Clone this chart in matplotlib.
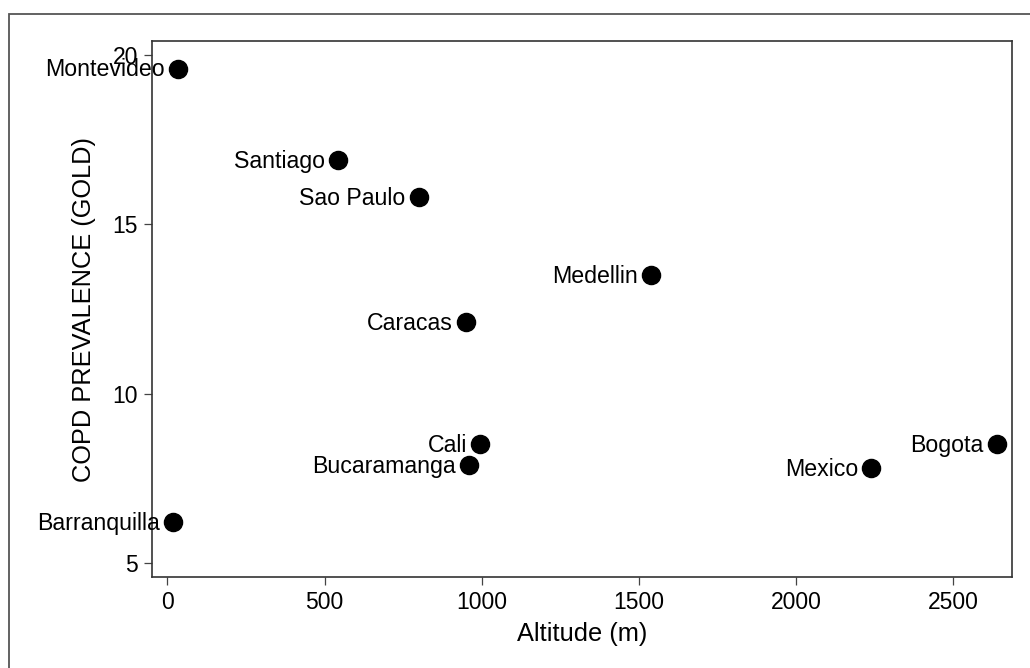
import matplotlib
matplotlib.use("Agg")
import matplotlib.pyplot as plt
from matplotlib.patches import Rectangle

plt.rcParams['font.family'] = ['Liberation Sans', 'DejaVu Sans']

# COPD prevalence vs altitude, PLATINO / PREPOCOL cities
cities = ['Montevideo', 'Santiago', 'Sao Paulo', 'Medellin', 'Caracas',
          'Cali', 'Bucaramanga', 'Barranquilla', 'Mexico', 'Bogota']
altitude = [35, 543, 800, 1538, 950, 995, 959, 18, 2240, 2640]
prevalence = [19.6, 16.9, 15.8, 13.5, 12.1, 8.5, 7.9, 6.2, 7.8, 8.5]

xticks = [0, 500, 1000, 1500, 2000, 2500]
yticks = [5, 10, 15, 20]

fig = plt.figure(figsize=(10.3, 6.68), dpi=100)
ax = fig.add_axes([0.1476, 0.1362, 0.835, 0.8017])

# outer frame (only top and left edge visible in the original crop)
fig.patches.append(Rectangle((9 / 1030, -0.1), 1.2, 1 - 14 / 668 + 0.1,
                             transform=fig.transFigure, fill=False,
                             edgecolor='#555555', linewidth=1.3))

ax.scatter(altitude, prevalence, s=170, color='black', zorder=3)
for name, x, y in zip(cities, altitude, prevalence):
    ax.annotate(name, (x, y), xytext=(-9.5, -1), textcoords='offset points',
                ha='right', va='center', fontsize=16.7, color='black')

ax.set_xlim(-49, 2688)
ax.set_ylim(4.58, 20.4)
ax.set_xticks(xticks)
ax.set_yticks(yticks)
ax.tick_params(labelsize=16.5, length=6, width=0.9, color='#444444', pad=4)
ax.set_xlabel('Altitude (m)', fontsize=18.3, labelpad=6)
ax.set_ylabel('COPD PREVALENCE (GOLD)', fontsize=18.3, labelpad=12)
for sp in ax.spines.values():
    sp.set_linewidth(1.2)
    sp.set_color('#333333')

fig.savefig('out.png', dpi=100)
